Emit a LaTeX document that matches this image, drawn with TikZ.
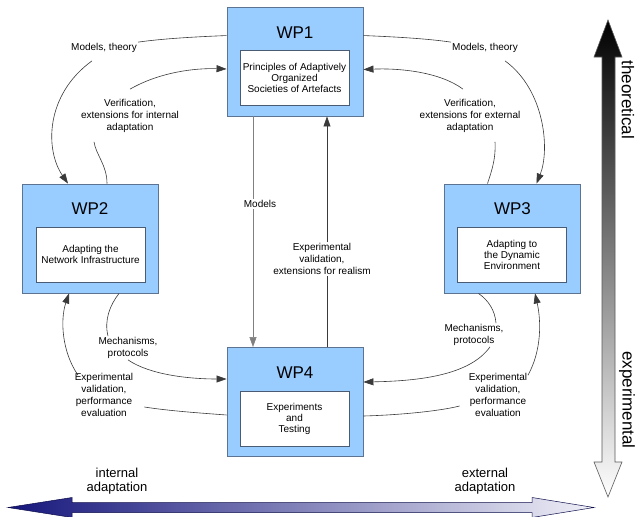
\documentclass[tikz,border=0pt]{standalone}
\usepackage{fontspec}
\setmainfont{Liberation Sans}
\usetikzlibrary{arrows.meta}
\definecolor{wpfill}{HTML}{99CCFF}
\definecolor{wpdraw}{HTML}{5C7391}
\definecolor{ln}{HTML}{3A3A3A}
\definecolor{navy}{HTML}{16167C}
\definecolor{pale}{HTML}{F0F0F8}
\begin{document}
\begin{tikzpicture}[x=1pt,y=-1pt,
  outer/.style={draw=wpdraw,fill=wpfill,line width=0.9pt,minimum width=136pt,minimum height=109pt,inner sep=0pt},
  inner/.style={draw=wpdraw!80!black,fill=white,line width=0.8pt,minimum width=109pt,minimum height=55pt,align=center,font=\fontsize{10}{11}\selectfont,inner sep=0pt},
  wplab/.style={font=\fontsize{17}{20}\selectfont,inner sep=0pt},
  lab/.style={align=center,font=\fontsize{10}{12}\selectfont,inner sep=1pt},
  con/.style={draw=ln,line width=0.6pt},
  arr/.style={con,-{Triangle[length=10pt,width=7pt]}},
  axis/.style={font=\fontsize{17}{20}\selectfont,inner sep=0pt},
  side/.style={font=\fontsize{13}{14.5}\selectfont,align=center,inner sep=0pt}
]
\useasboundingbox (0,0) rectangle (635,517);

% boxes
\node[outer] (wp1) at (295,61.5) {};
\node[inner] (in1) at (294.5,77.5) {Principles of Adaptively\\Organized\\Societies of Artefacts};
\node[wplab] (t1) at (295,33) {WP1};

\node[outer] (wp2) at (90,238.5) {};
\node[inner] (in2) at (90.5,254.5) {Adapting the\\Network Infrastructure};
\node[wplab] (t2) at (90,209) {WP2};

\node[outer] (wp3) at (512.5,238.5) {};
\node[inner] (in3) at (512,254.5) {Adapting to\\the Dynamic\\Environment};
\node[wplab] (t3) at (512.5,209) {WP3};

\node[outer] (wp4) at (295,402) {};
\node[inner] (in4) at (294.5,418.5) {Experiments\\and\\Testing};
\node[wplab] (t4) at (295,373) {WP4};

% labels
\node[lab] (lmt) at (104,48) {Models, theory};
\node[lab] (lvi) at (130,116) {Verification,\\extensions for internal\\adaptation};
\node[lab] (rmt) at (485,48) {Models, theory};
\node[lab] (rvi) at (470,116) {Verification,\\extensions for external\\adaptation};
\node[lab] (lmp) at (128,348) {Mechanisms,\\protocols};
\node[lab] (lev) at (104,395) {Experimental\\validation,\\performance\\evaluation};
\node[lab] (rmp) at (474,335) {Mechanisms,\\protocols};
\node[lab] (rev) at (498,395) {Experimental\\validation,\\performance\\evaluation};

% left upper connectors
\draw[con] ([yshift=-29pt]wp1.north west) .. controls (190,37) and (160,39) .. (lmt.north east);
\draw[arr] ([xshift=-12pt,yshift=-7pt]lmt.south) .. controls (45,95) and (45,150) .. ([xshift=-22pt]wp2.north);
\draw[con] ([xshift=17pt]wp2.north) .. controls (107,165) and (96,155) .. ([xshift=-36pt,yshift=-8pt]lvi.south);
\draw[arr] ([yshift=9pt]lvi.north) .. controls (160,72) and (195,68) .. ([yshift=-7.5pt]wp1.west);

% right upper connectors
\draw[con] ([yshift=-29pt]wp1.north east) .. controls (400,37) and (430,39) .. (rmt.north west);
\draw[arr] ([xshift=20pt,yshift=-7pt]rmt.south) .. controls (545,90) and (550,150) .. ([xshift=24pt]wp3.north);
\draw[con] ([xshift=-25pt]wp3.north) .. controls (492,170) and (496,158) .. ([xshift=25pt,yshift=-8pt]rvi.south);
\draw[arr] ([xshift=-7pt,yshift=9pt]rvi.north) .. controls (440,72) and (400,68) .. ([yshift=-8pt]wp1.east);

% left lower connectors
\draw[con] ([xshift=29pt]wp2.south) .. controls (110,305) and (104,320) .. ([xshift=-20pt]lmp.north);
\draw[arr] (lmp.south) .. controls (150,375) and (190,379) .. ([yshift=23pt]wp4.west);
\draw[con] ([yshift=-13pt]wp4.west) .. controls (200,413) and (170,411) .. ([xshift=10pt,yshift=-12pt]lev.east);
\draw[arr] ([xshift=-26pt,yshift=-3pt]lev.north) .. controls (62,352) and (60,320) .. ([xshift=-21pt]wp2.south);

% right lower connectors
\draw[con] ([xshift=-34pt]wp3.south) .. controls (488,300) and (495,310) .. ([xshift=22pt]rmp.north);
\draw[arr] ([xshift=16pt]rmp.south) .. controls (470,375) and (420,381) .. ([yshift=20pt]wp4.east);
\draw[con] ([yshift=-14pt]wp4.east) .. controls (400,415) and (440,411) .. ([xshift=-8pt,yshift=-11pt]rev.west);
\draw[arr] ([xshift=30pt,yshift=-3pt]rev.north) .. controls (542,350) and (541,320) .. ([xshift=22.5pt]wp3.south);

% vertical connectors
\draw[arr,draw=gray] ([xshift=-42pt]wp1.south) -- ([xshift=-42pt]wp4.north);
\node[lab,fill=white] (lmo) at (260,204) {Models};
\draw[arr] ([xshift=32pt]wp4.north) -- ([xshift=32pt]wp1.south);
\node[lab,fill=white] (lre) at (322,259) {Experimental\\validation,\\extensions for realism};

% axis arrows
\shade[top color=black,bottom color=white,draw=gray!70!black,line width=0.6pt]
  (608,20) -- (622,57) -- (615,57) -- (615,462) -- (622,462) -- (608,497)
  -- (594,462) -- (602,462) -- (602,57) -- (594,57) -- cycle;
\shade[left color=navy,right color=pale,draw=navy!60!black,line width=0.5pt]
  (8,507.5) -- (72,497.5) -- (72,502.5) -- (532,502.5) -- (532,497.5) -- (594,507.5)
  -- (532,517.5) -- (532,512.5) -- (72,512.5) -- (72,517.5) -- cycle;

\node[axis,rotate=-90] (th) at (628,100) {theoretical};
\node[axis,rotate=-90] (ex) at (627,400) {experimental};
\node[side] (ia) at (117,481) {internal\\adaptation};
\node[side] (ea) at (485,481) {external\\adaptation};
\end{tikzpicture}
\end{document}
